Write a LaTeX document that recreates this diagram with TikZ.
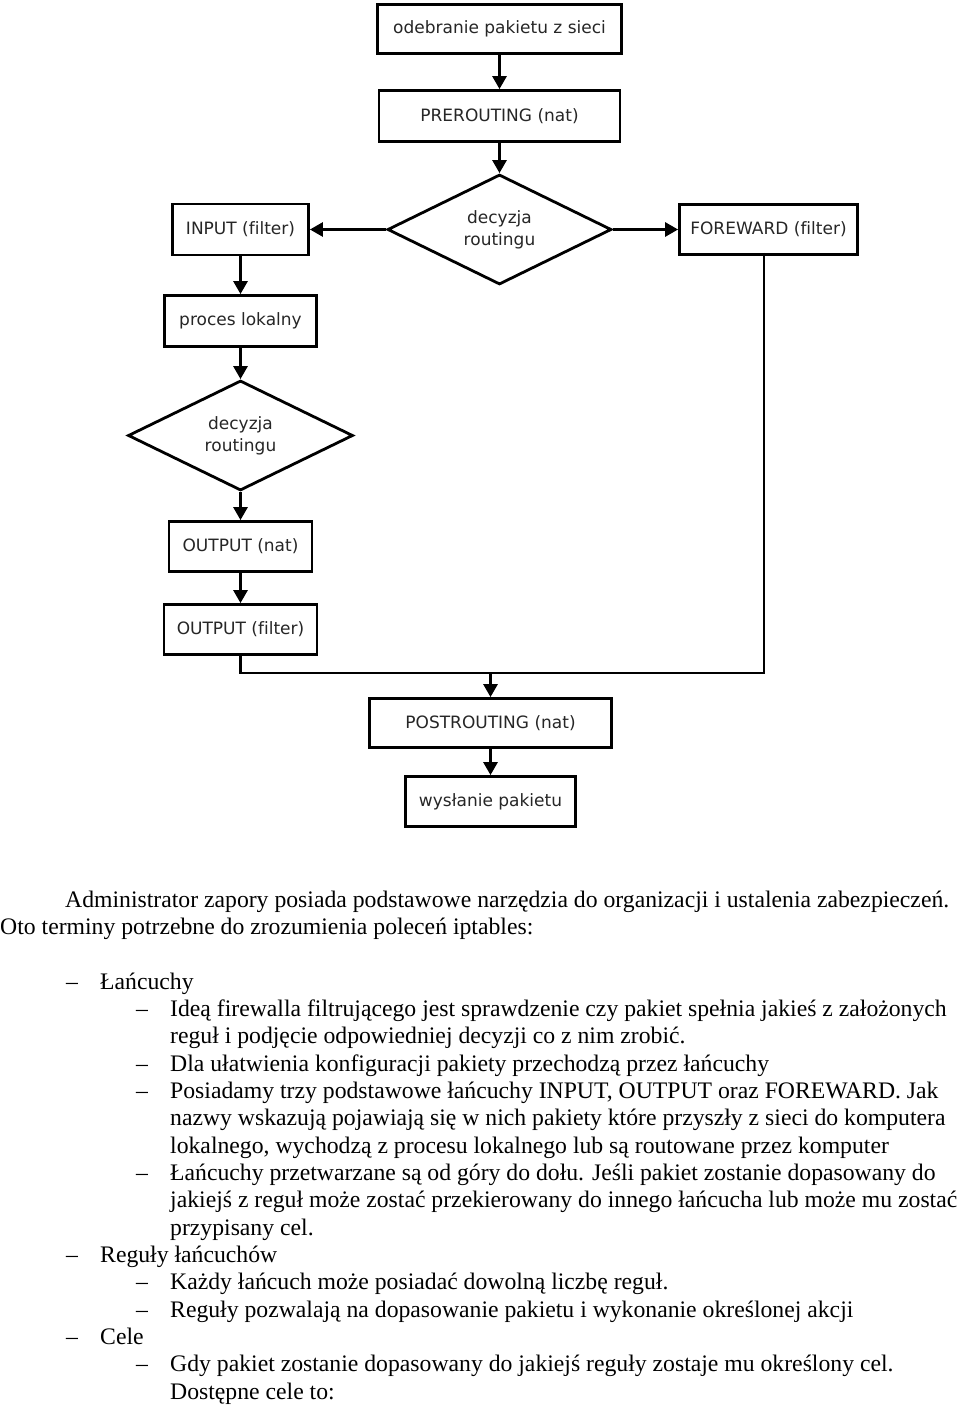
\documentclass[tikz,border=0pt]{standalone}
\usepackage{fontspec}
\setmainfont{Liberation Serif}
\newfontfamily\dvs[Ligatures=NoCommon]{DejaVu Sans}
\usetikzlibrary{shapes.geometric,arrows.meta}
\begin{document}
\begin{tikzpicture}[x=1pt,y=-1pt,
  box/.style={draw=black,line width=2.8pt,fill=white,inner sep=0pt,align=center,
    font=\dvs\fontsize{17}{22}\selectfont,text=black!85},
  dec/.style={box,diamond,aspect=2},
  conn/.style={line width=2.8pt},
  arr/.style={conn,-{Triangle[width=14pt,length=13pt]}},
  body/.style={anchor=base west,inner sep=0pt,font=\fontsize{23.7}{27.33}\selectfont},
  bullet/.style={body}]
\useasboundingbox (0,0) rectangle (960,1407);
% flowchart
\node[box,minimum width=244pt,minimum height=49pt] (rcv) at (499.5,29) {odebranie pakietu z sieci};
\node[box,minimum width=241pt,minimum height=51pt] (pre) at (499.5,116) {PREROUTING (nat)};
\node[dec,minimum width=224pt,minimum height=110pt] (dec1) at (499.5,229.5) {decyzja\\routingu};
\node[box,minimum width=136pt,minimum height=51pt] (in) at (240.5,229.5) {INPUT (filter)};
\node[box,minimum width=178pt,minimum height=50pt] (fw) at (768.5,229.5) {FOREWARD (filter)};
\node[box,minimum width=152pt,minimum height=51pt] (loc) at (240.5,321) {proces lokalny};
\node[dec,minimum width=225pt,minimum height=110pt] (dec2) at (240.5,435.5) {decyzja\\routingu};
\node[box,minimum width=143pt,minimum height=50pt] (onat) at (240.5,546.5) {OUTPUT (nat)};
\node[box,minimum width=153pt,minimum height=50pt] (ofil) at (240.5,629.5) {OUTPUT (filter)};
\node[box,minimum width=242pt,minimum height=49pt] (post) at (490.5,723) {POSTROUTING (nat)};
\node[box,minimum width=170pt,minimum height=50pt] (send) at (490.5,801.5) {wysłanie pakietu};
\coordinate (j) at (490.5,673);
\draw[arr] (rcv) -- (pre);
\draw[arr] (pre) -- (dec1);
\draw[arr] (dec1) -- (in);
\draw[arr] (dec1) -- (fw);
\draw[arr] (in) -- (loc);
\draw[arr] (loc) -- (dec2);
\draw[arr] (dec2) -- (onat);
\draw[arr] (onat) -- (ofil);
\draw[conn] (ofil.south) |- (j);
\draw[conn] ([xshift=-4.5pt,yshift=3pt]fw.south) |- (j);
\draw[arr] (j) -- (post);
\draw[arr] (post) -- (send);
% body text
\node[body] (t0) at (65,907) {Administrator zapory posiada podstawowe narzędzia do organizacji i ustalenia zabezpieczeń.};
\node[body] (t1) at (0,934.3) {Oto terminy potrzebne do zrozumienia poleceń iptables:};
\node[bullet] (d3) at (66,989) {–};
\node[body] (t3) at (100,989) {Łańcuchy};
\node[bullet] (d4) at (136,1016.3) {–};
\node[body] (t4) at (170,1016.3) {Ideą firewalla filtrującego jest sprawdzenie czy pakiet spełnia jakieś z założonych};
\node[body] (t5) at (170,1043.7) {reguł i podjęcie odpowiedniej decyzji co z nim zrobić.};
\node[bullet] (d6) at (136,1071) {–};
\node[body] (t6) at (170,1071) {Dla ułatwienia konfiguracji pakiety przechodzą przez łańcuchy};
\node[bullet] (d7) at (136,1098.3) {–};
\node[body] (t7) at (170,1098.3) {Posiadamy trzy podstawowe łańcuchy INPUT, OUTPUT oraz FOREWARD. Jak};
\node[body] (t8) at (170,1125.6) {nazwy wskazują pojawiają się w nich pakiety które przyszły z sieci do komputera};
\node[body] (t9) at (170,1153) {lokalnego, wychodzą z procesu lokalnego lub są routowane przez komputer};
\node[bullet] (d10) at (136,1180.3) {–};
\node[body] (t10) at (170,1180.3) {Łańcuchy przetwarzane są od góry do dołu. Jeśli pakiet zostanie dopasowany do};
\node[body] (t11) at (170,1207.6) {jakiejś z reguł może zostać przekierowany do innego łańcucha lub może mu zostać};
\node[body] (t12) at (170,1235) {przypisany cel.};
\node[bullet] (d13) at (66,1262.3) {–};
\node[body] (t13) at (100,1262.3) {Reguły łańcuchów};
\node[bullet] (d14) at (136,1289.6) {–};
\node[body] (t14) at (170,1289.6) {Każdy łańcuch może posiadać dowolną liczbę reguł.};
\node[bullet] (d15) at (136,1317) {–};
\node[body] (t15) at (170,1317) {Reguły pozwalają na dopasowanie pakietu i wykonanie określonej akcji};
\node[bullet] (d16) at (66,1344.3) {–};
\node[body] (t16) at (100,1344.3) {Cele};
\node[bullet] (d17) at (136,1371.6) {–};
\node[body] (t17) at (170,1371.6) {Gdy pakiet zostanie dopasowany do jakiejś reguły zostaje mu określony cel.};
\node[body] (t18) at (170,1399) {Dostępne cele to:};
\end{tikzpicture}
\end{document}
